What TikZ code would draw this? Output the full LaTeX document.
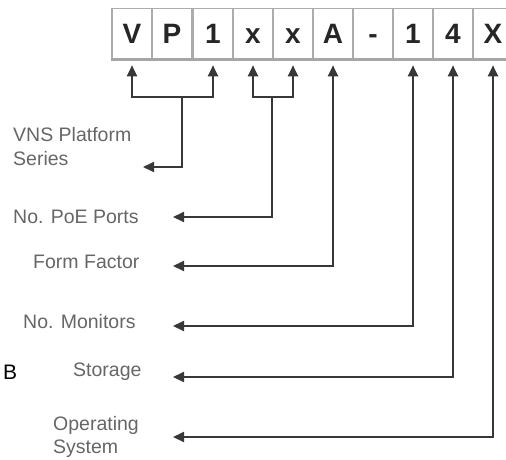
\documentclass[tikz,border=0pt]{standalone}
\usepackage{fontspec}
\setmainfont{Liberation Sans}
\usetikzlibrary{arrows.meta}
\begin{document}
\begin{tikzpicture}[x=1pt,y=-1pt,
  digit/.style={draw=gray!65, line width=1.6pt, fill=white, minimum width=40pt, minimum height=50pt, inner sep=0pt, text height=20pt, text depth=0pt, font=\bfseries\fontsize{28}{28}\selectfont, text=black!85},
  lbl/.style={font=\fontsize{19.5}{24}\selectfont, text=black!60, align=left, inner sep=0pt, anchor=west},
  tip/.style={-{Triangle[length=11pt,width=10pt]}},
  both/.style={{Triangle[length=11pt,width=10pt]}-{Triangle[length=11pt,width=10pt]}},
  conn/.style={draw=black!78, line width=2pt},
]
\useasboundingbox (0,0) rectangle (506,459);
\clip (0,0) rectangle (506,459);
% code boxes
\node[digit] (b1) at (132,33.5) {V};
\node[digit] (b2) at (172,33.5) {P};
\node[digit] (b3) at (213,33.5) {1};
\node[digit] (b4) at (253,33.5) {x};
\node[digit] (b5) at (293,33.5) {x};
\node[digit] (b6) at (333,33.5) {A};
\node[digit] (b7) at (373,33.5) {-};
\node[digit] (b8) at (413,33.5) {1};
\node[digit] (b9) at (453,33.5) {4};
\node[digit] (b10) at (493,33.5) {X};
\draw[gray!70, line width=2.8pt] (b1.south west) -- (b10.south east);
% labels
\node[lbl] (l1) at (13,147) {VNS Platform\\Series};
\node[lbl] (l2) at (13,217) {No. PoE Ports};
\node[lbl] (l3) at (33,262) {Form Factor};
\node[lbl] (l4) at (23,322) {No. Monitors};
\node[lbl] (l5) at (73,372) {Storage};
\node[lbl, font=\fontsize{19.5}{23}\selectfont] (l6) at (53,436.5) {Operating\\System};
\node[anchor=west, inner sep=0pt, font=\fontsize{21}{21}\selectfont, text=black] (lb) at (3,372) {B};
% junctions and arrow ends
\coordinate (j1) at (182,97);
\coordinate (j2) at (272,97);
\coordinate (e1) at (143,167);
\coordinate (e2) at (173,217);
\coordinate (e3) at (173,266);
\coordinate (e4) at (173,326);
\coordinate (e5) at (173,377);
\coordinate (e6) at (173,437);
% connectors
\draw[conn, tip, shorten >=6pt] (j1) -| (b1.south);
\draw[conn, tip, shorten >=6pt] (j1) -| (b3.south);
\draw[conn, tip] (j1) |- (e1);
\draw[conn, tip, shorten >=6pt] (j2) -| (b4.south);
\draw[conn, tip, shorten >=6pt] (j2) -| (b5.south);
\draw[conn, tip] (j2) |- (e2);
\draw[conn, both, shorten >=6pt] (e3) -| (b6.south);
\draw[conn, both, shorten >=6pt] (e4) -| (b8.south);
\draw[conn, both, shorten >=6pt] (e5) -| (b9.south);
\draw[conn, both, shorten >=6pt] (e6) -| (b10.south);
\end{tikzpicture}
\end{document}
